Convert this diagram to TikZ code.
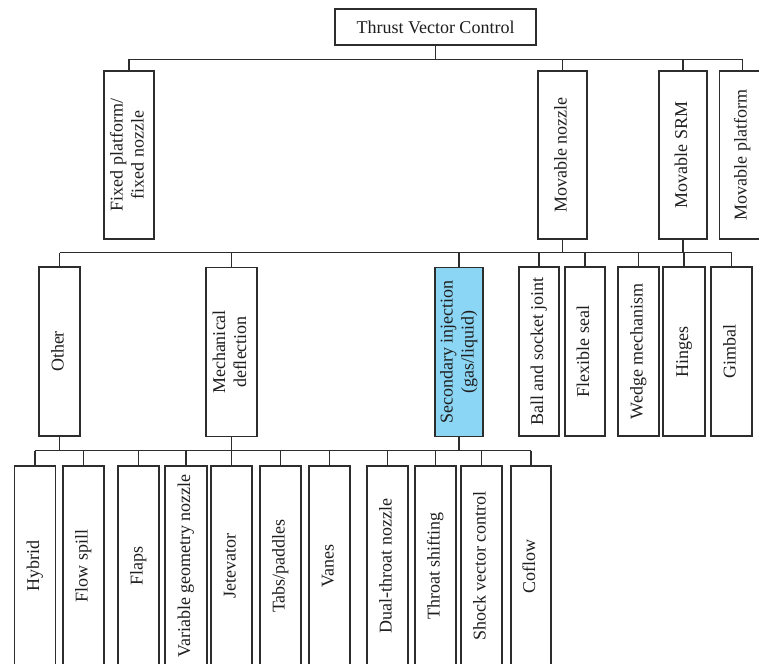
\documentclass[tikz,border=0pt]{standalone}
\usepackage{fontspec}
\setmainfont{Liberation Serif}
\usepackage{graphicx}
\newcommand\vlab[1]{\rotatebox{90}{\begin{tabular}{@{}c@{}}#1\end{tabular}}}
\definecolor{lncol}{RGB}{45,45,45}
\definecolor{txtcol}{RGB}{30,30,30}
\definecolor{hlblue}{RGB}{140,214,245}
\begin{document}
\begin{tikzpicture}[x=1pt,y=-1pt,
  box/.style={draw=lncol, line width=1.2pt, rectangle, inner sep=0pt, fill=white,
     text=txtcol, font=\fontsize{18}{21}\selectfont, align=center},
  lvone/.style={box, minimum height=168pt},
  lvtwo/.style={box, minimum height=169pt},
  lvthree/.style={box, minimum height=200pt, minimum width=41pt},
  conn/.style={draw=lncol, line width=1.2pt}]
\useasboundingbox (0,0) rectangle (759,663);

% root
\node[box, minimum width=201pt, minimum height=36pt] (tvc) at (435.5,27) {Thrust Vector Control};

% level 1
\node[lvone, minimum width=50pt] (fixed) at (129,155) {\vlab{Fixed platform/\\fixed nozzle}};
\node[lvone, minimum width=49pt] (movnoz) at (562.5,155) {\vlab{Movable nozzle}};
\node[lvone, minimum width=48pt] (movsrm) at (683,155) {\vlab{Movable SRM}};
\node[lvone, minimum width=46pt] (movplat) at (742.5,155) {\vlab{Movable platform}};

\coordinate (b1L) at (129,59.5);
\coordinate (b1R) at (742.5,59.5);
\draw[conn] (b1L) -- (b1R);
\draw[conn] (tvc.south) -- (tvc.south |- b1L);
\foreach \n in {fixed,movnoz,movsrm,movplat}
  \draw[conn] (\n.north) -- (\n.north |- b1L);

% level 2
\node[lvtwo, minimum width=41pt] (other) at (59.5,351.5) {\vlab{Other}};
\node[lvtwo, minimum width=51pt] (mech) at (231.5,352) {\vlab{Mechanical\\deflection}};
\node[lvtwo, minimum width=48pt, fill=hlblue] (sec) at (459,352) {\vlab{Secondary injection\\(gas/liquid)}};
\node[lvtwo, minimum width=40pt] (ball) at (539,351.5) {\vlab{Ball and socket joint}};
\node[lvtwo, minimum width=40pt] (flex) at (585,351.5) {\vlab{Flexible seal}};
\node[lvtwo, minimum width=41pt] (wedge) at (638.5,351.5) {\vlab{Wedge mechanism}};
\node[lvtwo, minimum width=42pt] (hinges) at (684,351.5) {\vlab{Hinges}};
\node[lvtwo, minimum width=41pt] (gimbal) at (731.5,351.5) {\vlab{Gimbal}};

\coordinate (b2L) at (59.5,252.7);
\coordinate (b2R) at (731.5,252.7);
\draw[conn] (b2L) -- (b2R);
\draw[conn] (movnoz.south) -- (movnoz.south |- b2L);
\draw[conn] (movsrm.south) -- (movsrm.south |- b2L);
\foreach \n in {other,mech,sec,ball,flex,wedge,hinges,gimbal}
  \draw[conn] (\n.north) -- (\n.north |- b2L);

% level 3
\node[lvthree] (hybrid) at (35,566) {\vlab{Hybrid}};
\node[lvthree] (flowspill) at (83.5,566) {\vlab{Flow spill}};
\node[lvthree] (flaps) at (138.5,566) {\vlab{Flaps}};
\node[lvthree, minimum width=42pt] (vgn) at (186,566) {\vlab{Variable geometry nozzle}};
\node[lvthree] (jetev) at (231.5,566) {\vlab{Jetevator}};
\node[lvthree] (tabs) at (280.5,566) {\vlab{Tabs/paddles}};
\node[lvthree] (vanes) at (329.5,566) {\vlab{Vanes}};
\node[lvthree] (dual) at (387.5,566) {\vlab{Dual-throat nozzle}};
\node[lvthree] (throat) at (435.5,566) {\vlab{Throat shifting}};
\node[lvthree] (shock) at (481.5,566) {\vlab{Shock vector control}};
\node[lvthree, minimum width=40pt] (coflow) at (531,566) {\vlab{Coflow}};

\coordinate (b3L) at (35,450.5);
\coordinate (b3R) at (531,450.5);
\draw[conn] (b3L) -- (b3R);
\foreach \n in {other,mech,sec}
  \draw[conn] (\n.south) -- (\n.south |- b3L);
\foreach \n in {hybrid,flowspill,flaps,vgn,jetev,tabs,vanes,dual,throat,shock,coflow}
  \draw[conn] (\n.north) -- (\n.north |- b3L);
\end{tikzpicture}
\end{document}
